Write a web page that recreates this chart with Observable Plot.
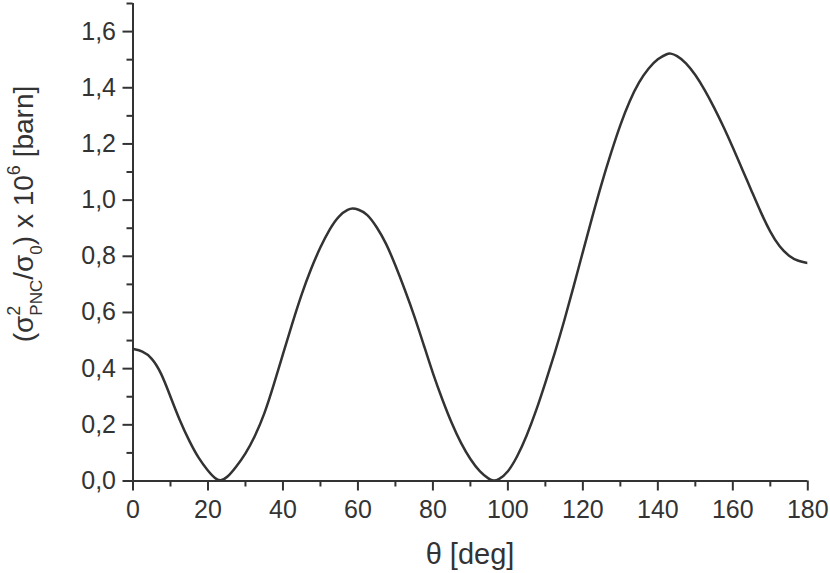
<!DOCTYPE html>
<html>
<head>
<meta charset="utf-8">
<script src="https://cdn.jsdelivr.net/npm/d3@7"></script>
<script src="https://cdn.jsdelivr.net/npm/@observablehq/plot@0.6"></script>
<style>
  html, body { margin: 0; padding: 0; background: #fff; }
  #chart svg { display: block; }
  #chart svg g[aria-label$="tick label"] { font-size: 25px; }
</style>
</head>
<body>
<div id="chart"></div>
<script>
// Data
const theta = [0, 2.5, 5, 7.5, 10, 12.5, 15, 17.5, 20, 22, 23.3, 25, 27.5, 30, 32.5, 35, 37.5, 40, 42.5, 45, 47.5, 50, 52.5, 55, 57.5, 58.5, 60, 62.5, 65, 67.5, 70, 72.5, 75, 77.5, 80, 82.5, 85, 87.5, 90, 92.5, 95, 96.2, 97.5, 100, 102.5, 105, 107.5, 110, 112.5, 115, 117.5, 120, 122.5, 125, 127.5, 130, 132.5, 135, 137.5, 140, 142.5, 143.3, 145, 147.5, 150, 152.5, 155, 157.5, 160, 162.5, 165, 167.5, 170, 172.5, 175, 177.5, 180];
const sigma = [0.470, 0.463, 0.440, 0.387, 0.300, 0.214, 0.142, 0.080, 0.036, 0.007, 0.000, 0.010, 0.050, 0.096, 0.158, 0.235, 0.340, 0.452, 0.562, 0.667, 0.757, 0.834, 0.899, 0.947, 0.968, 0.971, 0.968, 0.952, 0.905, 0.848, 0.768, 0.682, 0.590, 0.487, 0.382, 0.290, 0.205, 0.133, 0.076, 0.032, 0.006, 0.000, 0.004, 0.030, 0.086, 0.160, 0.248, 0.350, 0.455, 0.568, 0.691, 0.816, 0.940, 1.060, 1.168, 1.270, 1.355, 1.422, 1.470, 1.504, 1.521, 1.523, 1.516, 1.490, 1.447, 1.393, 1.330, 1.262, 1.188, 1.110, 1.033, 0.955, 0.885, 0.832, 0.800, 0.782, 0.776];

const xMajorTicks = [0, 20, 40, 60, 80, 100, 120, 140, 160, 180];
const xMinorTicks = [10, 30, 50, 70, 90, 110, 130, 150, 170];
const yMajorTicks = [0, 0.2, 0.4, 0.6, 0.8, 1.0, 1.2, 1.4, 1.6];
const yMinorTicks = [0.1, 0.3, 0.5, 0.7, 0.9, 1.1, 1.3, 1.5, 1.7];

const data = theta.map((t, i) => ({theta: t, value: sigma[i]}));
const ink = "#333";

const chart = Plot.plot({
  width: 830,
  height: 573,
  marginLeft: 132.5,
  marginRight: 22.7,
  marginTop: 3,
  marginBottom: 92.5,
  x: {domain: [0, 180]},
  y: {domain: [0, 1.7]},
  style: {fontFamily: "'Liberation Sans', Arial, sans-serif", fontSize: "25px", color: ink, background: "#fff"},
  marks: [
    Plot.axisX(xMinorTicks, {tickSize: 6, tickFormat: () => "", label: null, strokeWidth: 2, stroke: ink}),
    Plot.axisX(xMajorTicks, {tickSize: 10, tickPadding: 9, tickFormat: d => String(d), label: null, strokeWidth: 2, stroke: ink, fill: ink, fontSize: 25}),
    Plot.axisY(yMinorTicks, {tickSize: 6, tickFormat: () => "", label: null, strokeWidth: 2, stroke: ink}),
    Plot.axisY(yMajorTicks, {tickSize: 10, tickPadding: 7, tickFormat: d => d.toFixed(1).replace(".", ","), label: null, strokeWidth: 2, stroke: ink, fill: ink, fontSize: 25}),
    Plot.ruleY([0], {stroke: ink, strokeWidth: 2}),
    Plot.ruleX([0], {stroke: ink, strokeWidth: 2}),
    Plot.line(data, {x: "theta", y: "value", curve: "basis", stroke: ink, strokeWidth: 2.5, clip: true})
  ]
});

document.getElementById("chart").appendChild(chart);

const svg = d3.select(chart);
const font = "'Liberation Sans', Arial, sans-serif";

// x-axis title
svg.append("text")
  .attr("x", 470)
  .attr("y", 564)
  .attr("text-anchor", "middle")
  .attr("font-family", font)
  .attr("font-size", 29)
  .attr("fill", ink)
  .text("θ [deg]");

// y-axis title
const yt = svg.append("text")
  .attr("transform", "translate(33,214) rotate(-90)")
  .attr("text-anchor", "middle")
  .attr("font-family", font)
  .attr("font-size", 28)
  .attr("fill", ink);
yt.append("tspan").text("(σ");
yt.append("tspan").attr("font-size", 18).attr("dy", -13).text("2");
yt.append("tspan").attr("font-size", 17).attr("dx", -10).attr("dy", 22).text("PNC");
yt.append("tspan").attr("dy", -9).text("/σ");
yt.append("tspan").attr("font-size", 17).attr("dy", 9).text("0");
yt.append("tspan").attr("dy", -9).text(") x 10");
yt.append("tspan").attr("font-size", 18).attr("dy", -13).text("6");
yt.append("tspan").attr("dy", 13).text(" [barn]");
</script>
</body>
</html>
